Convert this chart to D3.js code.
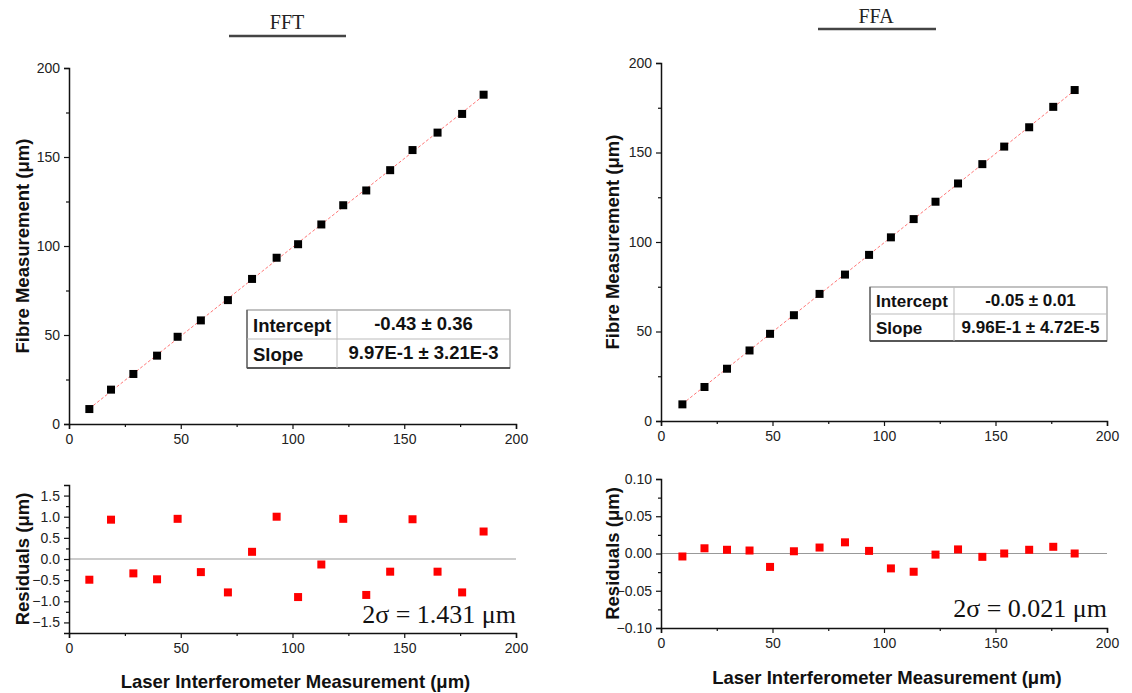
<!DOCTYPE html>
<html>
<head>
<meta charset="utf-8">
<script src="https://cdn.jsdelivr.net/npm/d3@7"></script>
<style>
  body { margin: 0; background: #fff; }
  text { font-family: "Liberation Sans", Arial, sans-serif; }
</style>
</head>
<body>
<div id="chart"></div>
<script>
// 数据 - FFT
const fftX = [9.1, 18.8, 28.8, 39.4, 48.6, 59.0, 71.1, 81.9, 92.9, 102.5, 112.9, 122.7, 133.0, 143.7, 153.7, 164.9, 175.9, 185.5];
const fftY = [8.4, 19.3, 28.1, 38.4, 49.0, 58.2, 69.6, 81.5, 93.4, 101.0, 112.1, 122.9, 131.2, 142.6, 153.9, 163.7, 174.2, 185.0];
const fftResid = [-0.49, 0.93, -0.34, -0.48, 0.95, -0.31, -0.79, 0.17, 1.00, -0.90, -0.13, 0.95, -0.85, -0.30, 0.94, -0.30, -0.79, 0.65];
const fftFit = [-0.43, 0.997]; // intercept, slope
const fftTable = [["Intercept", "-0.43 ± 0.36"], ["Slope", "9.97E-1 ± 3.21E-3"]];

// 数据 - FFA
const ffaX = [9.6, 19.5, 29.6, 39.7, 48.9, 59.6, 71.1, 82.5, 93.3, 103.1, 113.3, 123.1, 133.2, 144.1, 153.9, 165.1, 175.9, 185.5];
const ffaY = [9.3, 19.0, 29.2, 39.4, 48.7, 59.1, 71.0, 81.8, 92.8, 102.6, 112.8, 122.5, 132.7, 143.5, 153.3, 164.1, 175.5, 184.9];
const ffaResid = [-0.004, 0.007, 0.005, 0.004, -0.018, 0.003, 0.008, 0.015, 0.0035, -0.020, -0.0245, -0.0015, 0.0055, -0.0045, 0.0, 0.005, 0.009, 0.0];
const ffaFit = [-0.05, 0.996];
const ffaTable = [["Intercept", "-0.05 ± 0.01"], ["Slope", "9.96E-1 ± 4.72E-5"]];

// 刻度
const xTicks = [0, 50, 100, 150, 200];
const xMinor = [25, 75, 125, 175];
const fibreTicks = [0, 50, 100, 150, 200];
const fibreMinor = [25, 75, 125, 175];
const fftResidTicks = [-1.5, -1.0, -0.5, 0, 0.5, 1.0, 1.5];
const fftResidMinor = [-1.25, -0.75, -0.25, 0.25, 0.75, 1.25];
const ffaResidTicks = [-0.10, -0.05, 0, 0.05, 0.10];
const ffaResidMinor = [-0.075, -0.025, 0.025, 0.075];

const svg = d3.select("#chart").append("svg")
    .attr("width", 1132)
    .attr("height", 693);

function styleAxis(g) {
    g.select(".domain").attr("stroke", "#111").attr("stroke-width", 1.5);
    g.selectAll(".tick line").attr("stroke", "#111").attr("stroke-width", 1.2);
    g.selectAll(".tick text")
        .attr("fill", "#222")
        .style("font-size", "14px")
        .style("font-family", "'Liberation Sans', Arial, sans-serif");
}

function drawAxes(x, y, yMajor, yMinorVals, yFmt, xPix, yPix) {
    // x 轴
    const gx = svg.append("g").attr("transform", `translate(0,${yPix})`);
    gx.call(d3.axisBottom(x).tickValues(xTicks).tickSize(5).tickPadding(5).tickFormat(d3.format("d")));
    styleAxis(gx);
    const gxm = svg.append("g").attr("transform", `translate(0,${yPix})`);
    gxm.call(d3.axisBottom(x).tickValues(xMinor).tickSize(3).tickFormat(""));
    styleAxis(gxm);
    gxm.select(".domain").remove();

    // y 轴
    const gy = svg.append("g").attr("transform", `translate(${xPix},0)`);
    gy.call(d3.axisLeft(y).tickValues(yMajor).tickSize(5).tickPadding(4).tickFormat(yFmt));
    styleAxis(gy);
    const gym = svg.append("g").attr("transform", `translate(${xPix},0)`);
    gym.call(d3.axisLeft(y).tickValues(yMinorVals).tickSize(3).tickFormat(""));
    styleAxis(gym);
    gym.select(".domain").remove();
}

function drawTable(t, rows, fontSize) {
    const g = svg.append("g");
    g.append("rect")
        .attr("x", t.x).attr("y", t.y)
        .attr("width", t.w).attr("height", t.h)
        .attr("fill", "#fff").attr("stroke", "#999").attr("stroke-width", 1.2);
    g.append("line").attr("x1", t.x).attr("x2", t.x + t.w)
        .attr("y1", t.y + t.h).attr("y2", t.y + t.h)
        .attr("stroke", "#333").attr("stroke-width", 1.5);
    g.append("line").attr("x1", t.x).attr("x2", t.x)
        .attr("y1", t.y).attr("y2", t.y + t.h)
        .attr("stroke", "#555").attr("stroke-width", 1.2);
    g.append("line").attr("x1", t.x).attr("x2", t.x + t.w)
        .attr("y1", t.y + t.h / 2).attr("y2", t.y + t.h / 2)
        .attr("stroke", "#bbb").attr("stroke-width", 1);
    g.append("line").attr("x1", t.x + t.col).attr("x2", t.x + t.col)
        .attr("y1", t.y).attr("y2", t.y + t.h)
        .attr("stroke", "#bbb").attr("stroke-width", 1);

    rows.forEach((r, i) => {
        const cy = t.y + t.h / 4 + i * t.h / 2;
        g.append("text")
            .attr("x", t.x + 6).attr("y", cy + fontSize * 0.38)
            .attr("font-weight", "bold").style("font-size", fontSize + "px")
            .attr("fill", "#111")
            .text(r[0]);
        g.append("text")
            .attr("x", t.x + t.col + (t.w - t.col) / 2).attr("y", cy + fontSize * 0.3)
            .attr("text-anchor", "middle")
            .attr("font-weight", "bold").style("font-size", fontSize + "px")
            .attr("fill", "#111")
            .text(r[1]);
    });
}

function drawPanel(p) {
    // 标题
    svg.append("text")
        .attr("x", p.titleX).attr("y", p.titleY)
        .attr("text-anchor", "middle")
        .style("font-family", "'Liberation Serif', 'Times New Roman', serif")
        .style("font-size", "20px")
        .attr("fill", "#222")
        .text(p.title);
    svg.append("line")
        .attr("x1", p.lineX1).attr("x2", p.lineX2)
        .attr("y1", p.lineY).attr("y2", p.lineY)
        .attr("stroke", "#444").attr("stroke-width", 2.5);

    const x = d3.scaleLinear().domain([0, 200]).range([p.x0, p.x1]);

    // 上图: 纤维测量
    const yTop = d3.scaleLinear().domain([0, 200]).range([p.topBottom, p.topTop]);
    const xFitEnd = d3.extent(p.xs);
    svg.append("line")
        .attr("x1", x(xFitEnd[0])).attr("y1", yTop(p.fit[0] + p.fit[1] * xFitEnd[0]))
        .attr("x2", x(xFitEnd[1])).attr("y2", yTop(p.fit[0] + p.fit[1] * xFitEnd[1]))
        .attr("stroke", "#f55").attr("stroke-width", 1)
        .attr("stroke-dasharray", "3,2").attr("opacity", 0.8);

    drawAxes(x, yTop, fibreTicks, fibreMinor, d3.format("d"), p.x0, p.topBottom);

    svg.append("g").selectAll("rect")
        .data(p.xs.map((d, i) => [d, p.ys[i]]))
        .enter().append("rect")
        .attr("x", d => x(d[0]) - 4)
        .attr("y", d => yTop(d[1]) - 4)
        .attr("width", 8).attr("height", 8)
        .attr("fill", "#000");

    svg.append("text")
        .attr("transform", `translate(${p.ylabX},${(p.topTop + p.topBottom) / 2}) rotate(-90)`)
        .attr("text-anchor", "middle")
        .attr("font-weight", "bold").style("font-size", "18.5px")
        .attr("fill", "#111")
        .text("Fibre Measurement (μm)");

    drawTable(p.table, p.tableRows, p.tableFont);

    // 下图: 残差
    const yRes = d3.scaleLinear().domain(p.resDomain).range([p.resBottom, p.resTop]);
    svg.append("line")
        .attr("x1", p.x0).attr("x2", p.x1)
        .attr("y1", yRes(0)).attr("y2", yRes(0))
        .attr("stroke", "#999").attr("stroke-width", 1);

    drawAxes(x, yRes, p.resTicks, p.resMinor, p.resFmt, p.x0, p.resBottom);

    svg.append("g").selectAll("rect")
        .data(p.xs.map((d, i) => [d, p.res[i]]))
        .enter().append("rect")
        .attr("x", d => x(d[0]) - 4)
        .attr("y", d => yRes(d[1]) - 4)
        .attr("width", 8).attr("height", 8)
        .attr("fill", "#f00");

    svg.append("text")
        .attr("transform", `translate(${p.ylabX},${(p.resTop + p.resBottom) / 2}) rotate(-90)`)
        .attr("text-anchor", "middle")
        .attr("font-weight", "bold").style("font-size", "18.5px")
        .attr("fill", "#111")
        .text("Residuals (μm)");

    svg.append("text")
        .attr("x", p.x1).attr("y", p.sigmaY)
        .attr("text-anchor", "end")
        .style("font-family", "'Liberation Serif', 'Times New Roman', serif")
        .style("font-size", "26px")
        .attr("fill", "#111")
        .text(p.sigma);

    svg.append("text")
        .attr("x", (p.x0 + p.x1) / 2 + 3).attr("y", p.xlabY)
        .attr("text-anchor", "middle")
        .attr("font-weight", "bold").style("font-size", "18.5px")
        .attr("fill", "#111")
        .text("Laser Interferometer Measurement (μm)");
}

drawPanel({
    title: "FFT", titleX: 287, titleY: 29, lineX1: 229, lineX2: 346, lineY: 36,
    x0: 69, x1: 516, topTop: 68, topBottom: 424,
    resTop: 485, resBottom: 633,
    xs: fftX, ys: fftY, res: fftResid, fit: fftFit,
    resDomain: [-1.75, 1.75], resTicks: fftResidTicks, resMinor: fftResidMinor, resFmt: d3.format(".1f"),
    ylabX: 29,
    table: { x: 247, y: 310, w: 263, h: 58, col: 90 }, tableRows: fftTable, tableFont: 18.5,
    sigma: "2σ = 1.431 μm", sigmaY: 623, xlabY: 688
});

drawPanel({
    title: "FFA", titleX: 876, titleY: 23, lineX1: 818, lineX2: 936, lineY: 29,
    x0: 661, x1: 1107, topTop: 63, topBottom: 421,
    resTop: 479, resBottom: 628,
    xs: ffaX, ys: ffaY, res: ffaResid, fit: ffaFit,
    resDomain: [-0.10, 0.10], resTicks: ffaResidTicks, resMinor: ffaResidMinor, resFmt: d3.format(".2f"),
    ylabX: 619,
    table: { x: 870, y: 287, w: 237, h: 54, col: 84 }, tableRows: ffaTable, tableFont: 17,
    sigma: "2σ = 0.021 μm", sigmaY: 617, xlabY: 684
});
</script>
</body>
</html>
